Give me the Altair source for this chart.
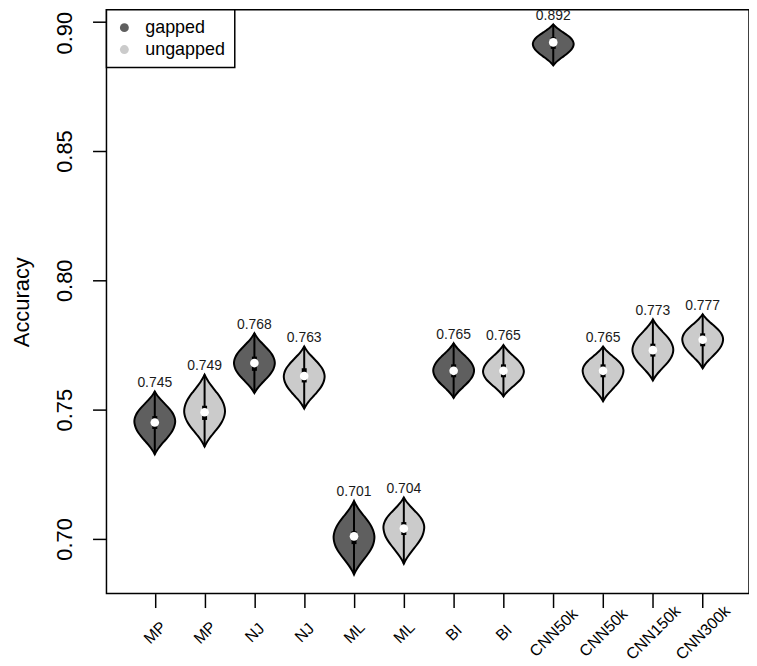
import altair as alt
import pandas as pd

# ---- data ----
names = ["MP", "MP", "NJ", "NJ", "ML", "ML", "BI", "BI",
         "CNN50k", "CNN50k", "CNN150k", "CNN300k"]
groups = ["gapped", "ungapped", "gapped", "ungapped", "gapped", "ungapped",
          "gapped", "ungapped", "gapped", "ungapped", "ungapped", "ungapped"]
positions = [1, 2, 3, 4, 5, 6, 7, 8, 9, 10, 11, 12]
medians = [0.745, 0.749, 0.768, 0.763, 0.701, 0.704, 0.765, 0.765, 0.892, 0.765, 0.773, 0.777]
tops = [0.7570, 0.7635, 0.7795, 0.7744, 0.7147, 0.7160, 0.7757, 0.7750, 0.8990, 0.7744, 0.7849, 0.7869]
bottoms = [0.7327, 0.7357, 0.7564, 0.7504, 0.6862, 0.6904, 0.7545, 0.7551, 0.8831, 0.7532, 0.7613, 0.7660]
modes = [0.7455, 0.7494, 0.7680, 0.7628, 0.7006, 0.7045, 0.7651, 0.7647, 0.8914, 0.7651, 0.7731, 0.7772]
q3s = [0.7475, 0.7515, 0.7705, 0.7660, 0.7030, 0.7065, 0.7675, 0.7675, 0.8940, 0.7675, 0.7755, 0.7795]
q1s = [0.7425, 0.7460, 0.7650, 0.7605, 0.6980, 0.7015, 0.7625, 0.7625, 0.8895, 0.7625, 0.7705, 0.7745]
value_labels = ["0.745", "0.749", "0.768", "0.763", "0.701", "0.704",
                "0.765", "0.765", "0.892", "0.765", "0.773", "0.777"]

# violin outline profile (distance from widest point -> tip, relative half width)
prof_t = [0.0, 0.1, 0.2, 0.3, 0.4, 0.5, 0.6, 0.7, 0.8, 0.9, 1.0]
prof_w = [1.0, 0.98, 0.93, 0.85, 0.74, 0.61, 0.47, 0.33, 0.20, 0.09, 0.0]
HALF_WIDTH = 0.41

rows = []
for i in range(len(names)):
    pos = positions[i]
    for t, w in zip(reversed(prof_t), reversed(prof_w)):
        y = modes[i] - t * (modes[i] - bottoms[i])
        rows.append(dict(v=i, group=groups[i], y=y,
                         xl=pos - HALF_WIDTH * w, xr=pos + HALF_WIDTH * w))
    for t, w in zip(prof_t[1:], prof_w[1:]):
        y = modes[i] + t * (tops[i] - modes[i])
        rows.append(dict(v=i, group=groups[i], y=y,
                         xl=pos - HALF_WIDTH * w, xr=pos + HALF_WIDTH * w))
vdf = pd.DataFrame(rows)

sdf = pd.DataFrame(dict(pos=positions, group=groups, median=medians, top=tops,
                        bottom=bottoms, q1=q1s, q3=q3s, label=value_labels))

FONT = "Liberation Sans"
xscale = alt.Scale(domain=[0.03, 12.93], nice=False, zero=False)
yscale = alt.Scale(domain=[0.67885, 0.90462], nice=False, zero=False)

label_expr = "[" + ",".join("'%s'" % n for n in names) + "][datum.value - 1]"
xaxis = alt.Axis(values=positions, labelExpr=label_expr, labelAngle=-45,
                 labelAlign="center", labelBaseline="middle", labelPadding=25,
                 labelFontSize=16, tickSize=14, labelOverlap=False, title=None)
yaxis = alt.Axis(values=[0.70, 0.75, 0.80, 0.85, 0.90], format=".2f",
                 labelAngle=270, labelAlign="center", labelBaseline="alphabetic",
                 labelPadding=21, labelFontSize=22, tickSize=14, labelOverlap=False,
                 labelOffset={"condition": {"test": "datum.value > 0.895", "value": 11}, "value": 0},
                 title="Accuracy", titleFontSize=22, titleFontWeight="normal",
                 titleX=-85, titleAngle=270, titleBaseline="middle", titleAlign="center")

fill_scale = alt.Scale(domain=["gapped", "ungapped"], range=["#5f5f5f", "#cbcbcb"])

violins = alt.Chart(vdf).mark_area(
    orient="horizontal", stroke="black", strokeWidth=2,
    interpolate="monotone", opacity=1
).encode(
    y=alt.Y("y:Q", scale=yscale, axis=yaxis),
    x=alt.X("xl:Q", scale=xscale, axis=xaxis, stack=None),
    x2="xr:Q",
    fill=alt.Fill("group:N", scale=fill_scale, legend=alt.Legend(
        title=None, orient="none", legendX=0, legendY=0, padding=9,
        strokeColor="black", fillColor="white", symbolType="circle",
        symbolSize=80, symbolStrokeWidth=0, labelFontSize=18, labelFont=FONT,
        labelOffset=12, rowPadding=4, cornerRadius=0)),
    detail="v:N",
)

whiskers = alt.Chart(sdf).mark_rule(color="black", strokeWidth=2).encode(
    x=alt.X("pos:Q", scale=xscale, axis=xaxis),
    y=alt.Y("bottom:Q", scale=yscale, axis=yaxis),
    y2="top:Q",
)

boxes = alt.Chart(sdf).mark_rule(color="black", strokeWidth=5).encode(
    x=alt.X("pos:Q", scale=xscale, axis=xaxis),
    y=alt.Y("q1:Q", scale=yscale, axis=yaxis),
    y2="q3:Q",
)

meds = alt.Chart(sdf).mark_point(filled=True, color="white", opacity=1, size=75,
                                 shape="circle", strokeWidth=0).encode(
    x=alt.X("pos:Q", scale=xscale, axis=xaxis),
    y=alt.Y("median:Q", scale=yscale, axis=yaxis),
)

texts = alt.Chart(sdf).mark_text(fontSize=14, font=FONT, color="#1a1a1a",
                                 baseline="alphabetic", dy=-4.5).encode(
    x=alt.X("pos:Q", scale=xscale, axis=xaxis),
    y=alt.Y("top:Q", scale=yscale, axis=yaxis),
    text="label:N",
)

chart = alt.layer(violins, whiskers, boxes, meds, texts).properties(
    width=646, height=587,
    autosize=alt.AutoSizeParams(type="none"),
    padding={"left": 99, "top": 0, "right": 0, "bottom": 71},
).configure_view(
    stroke="black", strokeWidth=1.5
).configure_axis(
    grid=False, domain=False, tickColor="black", tickWidth=1.5,
    labelColor="black", titleColor="black", labelFont=FONT, titleFont=FONT,
).configure_legend(
    strokeWidth=1.5
)

chart.save("out.html", embed_options={"renderer": "svg", "actions": False})
